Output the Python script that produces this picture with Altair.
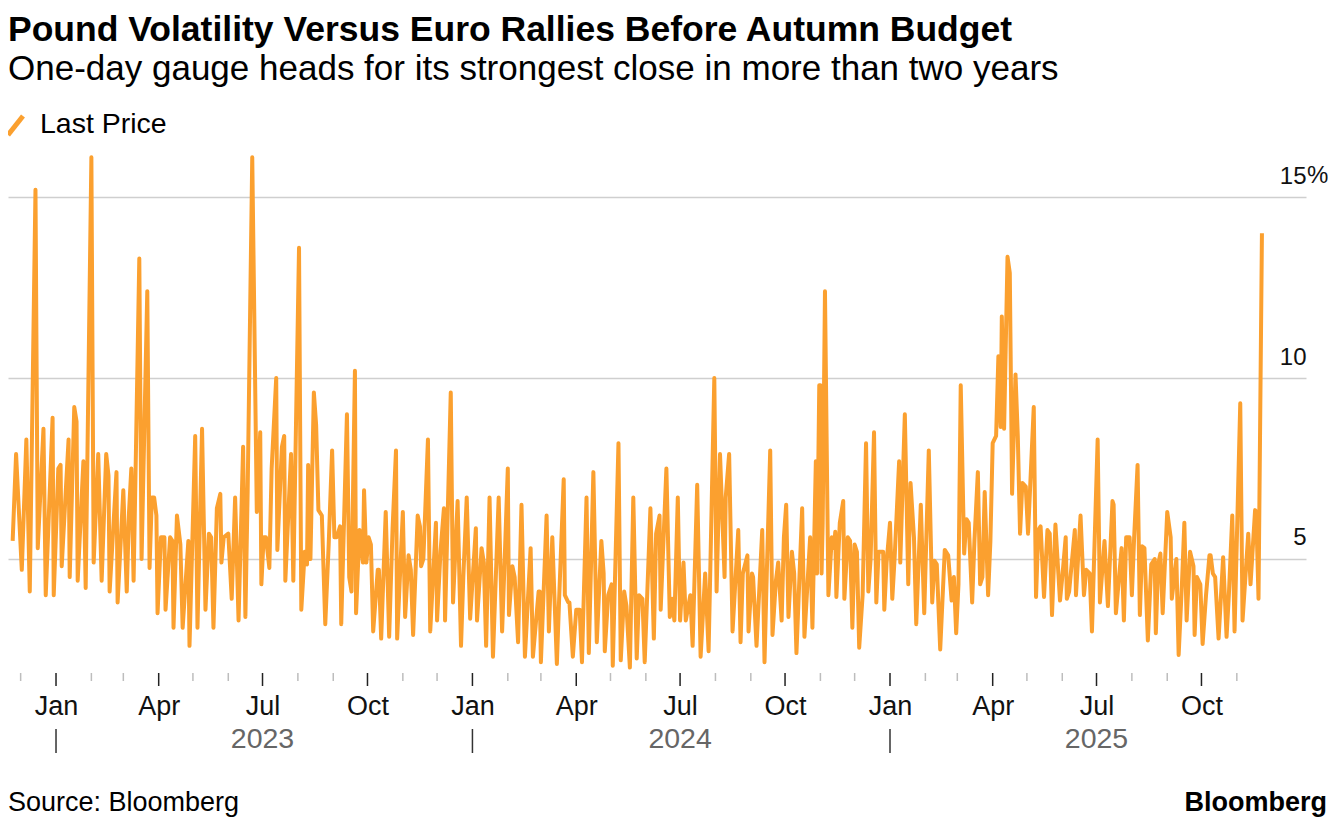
import altair as alt
import pandas as pd

TITLE = "Pound Volatility Versus Euro Rallies Before Autumn Budget"
SUBTITLE = "One-day gauge heads for its strongest close in more than two years"
SERIES = "Last Price"
SOURCE = "Source: Bloomberg"
BRAND = "Bloomberg"

# Observation dates as days after 2023-01-01, and one-day GBP/EUR implied volatility (%)
day_2022_23 = [-38, -35, -30, -26, -23, -18, -16, -11, -9, -3,
               -2, 2, 4, 5, 11, 12, 16, 18, 19, 24,
               26, 31, 33, 37, 40, 44, 46, 47, 53, 54,
               59, 62, 64, 66, 68, 70, 73, 75, 80, 82,
               84, 86, 88, 89, 92, 95, 96, 100, 102, 103,
               106, 109, 111, 116, 117, 122, 124, 128, 131, 134,
               136, 138, 141, 144, 145, 147, 151, 154, 157, 160,
               164, 166, 168, 172, 176, 179, 180, 182, 184, 187,
               189, 193, 194, 198, 200, 201, 206, 208, 213, 215,
               218, 220, 221, 223, 226, 228, 230, 233, 236, 239,
               242, 244, 246, 249, 250, 255, 257, 259, 262, 263,
               266, 269, 270, 272, 274, 276, 278, 282, 283, 285,
               289, 292, 295, 298, 299, 304, 306, 309, 311, 313,
               317, 319, 320, 322, 326, 328, 333, 334, 337, 340,
               341, 346, 348, 352, 355, 357, 360, 363]
vol_2022_23 = [5.5, 7.9, 4.7, 8.3, 4.1, 15.2, 5.3, 8.6, 4.0, 8.9,
               4.0, 7.5, 7.6, 4.8, 8.3, 4.5, 9.2, 8.8, 4.4, 7.7,
               4.2, 16.1, 4.9, 7.9, 4.4, 7.9, 7.3, 4.1, 7.4, 3.8,
               6.9, 4.1, 6.3, 7.5, 4.4, 7.9, 13.3, 5.0, 12.4, 4.75,
               6.7, 6.7, 6.2, 3.5, 5.6, 5.6, 3.6, 5.6, 5.5, 3.1,
               6.2, 5.4, 3.1, 5.5, 2.6, 8.4, 3.1, 8.6, 3.6, 5.7,
               5.6, 3.1, 6.4, 6.8, 4.9, 5.6, 5.7, 3.9, 6.7, 3.3,
               8.1, 3.4, 6.9, 16.1, 6.3, 8.5, 4.3, 5.6, 5.6, 4.75,
               7.5, 10.0, 5.25, 8.1, 8.4, 4.4, 7.9, 4.4, 13.6, 3.6,
               5.2, 4.85, 7.6, 5.0, 9.6, 8.7, 6.35, 6.2, 3.2, 5.4,
               8.0, 5.6, 5.6, 5.9, 3.2, 9.0, 4.5, 4.1, 10.2, 3.5,
               5.8, 4.9, 6.9, 4.9, 5.6, 5.4, 3.0, 4.7, 4.7, 2.8,
               6.3, 2.85, 5.85, 8.0, 2.8, 6.3, 3.4, 5.1, 4.7, 2.9,
               6.2, 5.9, 4.8, 5.0, 8.3, 3.0, 6.0, 3.3, 5.2, 6.4,
               3.3, 9.6, 3.8, 6.6, 2.6, 4.5, 6.7, 3.35]

day_2024 = [368, 369, 373, 375, 377, 380, 383, 388, 391, 393,
            396, 397, 400, 402, 405, 408, 411, 416, 418, 423,
            424, 425, 430, 432, 435, 439, 441, 445, 446, 449,
            450, 453, 456, 459, 461, 465, 467, 471, 474, 478,
            480, 481, 484, 487, 488, 493, 495, 498, 500, 503,
            506, 509, 511, 514, 516, 521, 524, 526, 529, 530,
            535, 538, 540, 542, 545, 547, 550, 552, 556, 558,
            562, 565, 569, 572, 577, 579, 582, 586, 587, 590,
            593, 598, 600, 602, 606, 607, 610, 611, 614, 619,
            621, 623, 626, 628, 631, 633, 636, 638, 640, 642,
            645, 647, 649, 654, 656, 661, 663, 666, 667, 669,
            670, 671, 672, 674, 677, 680, 682, 683, 684, 687,
            690, 691, 694, 696, 698, 700, 702, 704, 707, 710,
            712, 714, 717, 719, 721, 725, 726, 728]
vol_2024 = [5.85, 3.3, 5.3, 4.9, 2.6, 6.7, 2.3, 6.7, 3.0, 4.75,
            7.5, 3.45, 4.8, 4.5, 2.7, 6.5, 2.3, 5.3, 2.3, 4.1,
            4.1, 2.15, 6.2, 3.0, 5.6, 2.1, 3.9, 7.2, 4.0, 3.8,
            3.8, 2.3, 3.6, 3.6, 2.15, 6.7, 2.4, 7.4, 2.7, 5.5,
            4.6, 2.45, 4.0, 4.3, 2.05, 8.2, 2.2, 4.1, 3.7, 2.0,
            6.7, 2.25, 4.0, 3.9, 2.15, 6.4, 2.8, 5.7, 6.2, 3.6,
            7.5, 3.4, 3.9, 3.3, 6.7, 3.3, 4.9, 3.3, 4.0, 2.6,
            7.05, 2.3, 4.6, 2.45, 10.0, 4.1, 7.9, 4.5, 6.7, 7.9,
            3.0, 5.8, 2.7, 4.6, 5.1, 3.0, 4.6, 4.5, 2.6, 5.8,
            2.15, 4.6, 8.0, 2.9, 4.4, 4.9, 3.3, 5.6, 6.5, 3.4,
            5.2, 4.6, 2.4, 6.4, 2.85, 5.6, 3.1, 7.7, 4.6, 9.8,
            9.8, 4.6, 6.0, 12.4, 4.0, 5.6, 5.3, 5.75, 3.95, 6.0,
            6.6, 3.9, 5.6, 5.5, 3.1, 5.4, 5.2, 2.55, 4.0, 8.2,
            4.1, 5.0, 8.5, 3.8, 5.2, 5.2, 3.6, 4.9]

day_2025 = [731, 733, 735, 739, 740, 744, 747, 749, 752, 754,
            758, 761, 765, 768, 770, 772, 775, 779, 782, 785,
            787, 789, 791, 793, 796, 798, 800, 803, 805, 808,
            810, 812, 814, 817, 819, 821, 824, 826, 828, 829,
            831, 834, 836, 838, 841, 843, 845, 847, 850, 852,
            857, 859, 861, 863, 866, 869, 871, 873, 876, 880,
            882, 885, 886, 888, 893, 894, 898, 901, 903, 906,
            908, 913, 915, 919, 922, 926, 927, 929, 934, 936,
            938, 941, 943, 945, 948, 950, 952, 954, 957, 960,
            963, 964, 966, 968, 970, 974, 977, 978, 982, 984,
            987, 989, 991, 994, 997, 998, 1000, 1003, 1005, 1008,
            1011, 1012, 1014, 1016, 1019, 1023, 1026, 1028, 1031, 1033,
            1038, 1040, 1045, 1047, 1051, 1052, 1054, 1057]
vol_2025 = [6.0, 3.9, 5.0, 7.7, 4.9, 9.0, 4.3, 7.1, 5.6, 3.2,
            6.5, 3.5, 8.0, 3.8, 4.95, 4.85, 2.5, 5.25, 5.1, 3.85,
            4.5, 2.95, 4.3, 9.8, 5.15, 6.1, 6.0, 3.8, 5.5, 7.4,
            4.3, 4.5, 6.85, 4.0, 5.5, 8.2, 8.4, 10.6, 8.65, 11.7,
            8.6, 13.35, 12.9, 6.8, 10.1, 8.4, 5.7, 7.1, 7.0, 5.7,
            9.2, 3.95, 5.8, 5.9, 3.95, 5.8, 5.7, 3.45, 5.95, 3.85,
            4.5, 5.6, 3.9, 4.1, 5.8, 4.0, 6.2, 4.0, 4.7, 4.6,
            3.0, 8.3, 3.8, 5.5, 3.7, 6.6, 6.5, 3.5, 5.3, 3.3,
            5.6, 5.6, 4.0, 5.6, 7.6, 3.45, 5.35, 5.3, 2.75, 4.85,
            5.0, 2.95, 4.85, 5.15, 3.5, 6.3, 5.6, 3.9, 5.0, 2.35,
            4.4, 6.0, 3.3, 5.2, 4.8, 2.9, 4.5, 4.3, 2.65, 4.0,
            5.1, 5.1, 4.6, 4.5, 2.8, 5.05, 2.85, 4.0, 6.2, 3.0,
            9.3, 3.3, 5.7, 4.3, 6.35, 6.3, 3.9, 14.0]

y_ticks = [5, 10, 15]
quarter_labels = ["2023-01-01", "2023-04-01", "2023-07-01", "2023-10-01",
                  "2024-01-01", "2024-04-01", "2024-07-01", "2024-10-01",
                  "2025-01-01", "2025-04-01", "2025-07-01", "2025-10-01"]
year_labels = ["2023", "2024", "2025"]

# ---------------------------------------------------------------- layout
W, H = 1298, 523
ORANGE = "#fba02f"
FONT = "Liberation Sans"

base = pd.Timestamp("2023-01-01")
days = day_2022_23 + day_2024 + day_2025
vols = vol_2022_23 + vol_2024 + vol_2025
df = pd.DataFrame({
    "date": [(base + pd.Timedelta(days=d)).strftime("%Y-%m-%d") for d in days],
    "vol": vols,
})

month_starts = pd.date_range("2022-12-01", "2025-11-01", freq="MS")
ticks_df = pd.DataFrame({
    "date": month_starts.strftime("%Y-%m-%d"),
    "major": [m.month in (1, 4, 7, 10) for m in month_starts],
})
years_df = pd.DataFrame({"date": [f"{y}-07-01" for y in year_labels], "label": year_labels})
jan_df = pd.DataFrame({"date": [f"{y}-01-01" for y in year_labels]})


def dt(s, h=0):
    t = pd.Timestamp(s)
    return alt.DateTime(year=t.year, month=t.month, date=t.day, hours=h, utc=True)


x_scale = alt.Scale(type="utc", domain=[dt("2022-11-19", 22), dt("2025-12-31", 15)])
y_scale = alt.Scale(domain=[1.85, 16.3], zero=False, nice=False)

x_axis = alt.Axis(
    values=[dt(q) for q in quarter_labels],
    labelExpr="utcFormat(datum.value, '%b')",
    ticks=False, tickSize=0, domain=False, grid=False, title=None,
    labelFont=FONT, labelFontSize=27, labelColor="#111111",
    labelBaseline="middle", labelPadding=33, labelFlush=False,
)
y_axis = alt.Axis(
    orient="right", values=y_ticks, format="d",
    ticks=False, tickSize=0, domain=False, grid=True,
    gridColor="#cfcfcf", gridWidth=1.5, title=None,
    labelFont=FONT, labelFontSize=24, labelColor="#111111",
    labelAlign="right", labelBaseline="middle", labelOffset=-21, labelPadding=0,
)


def X(field="date:T"):
    return alt.X(field, scale=x_scale, axis=x_axis)


def Y(field):
    return alt.Y(field, scale=y_scale, axis=y_axis)


line = alt.Chart(df).mark_line(
    color=ORANGE, strokeWidth=4, strokeJoin="round"
).encode(x=X(), y=Y("vol:Q"))

pct = alt.Chart(pd.DataFrame({"v": [max(y_ticks)], "s": ["%"]})).mark_text(
    align="left", baseline="middle", dy=-21, font=FONT, fontSize=24, color="#111111"
).encode(x=alt.value(W + 1), y=Y("v:Q"), text="s:N")

minor_ticks = alt.Chart(ticks_df).transform_filter("!datum.major").mark_rule(
    color="#bdbdbd", strokeWidth=1.5
).encode(x=X(), y=alt.value(H), y2=alt.value(H + 8))

major_ticks = alt.Chart(ticks_df).transform_filter("datum.major").mark_rule(
    color="#222222", strokeWidth=1.5
).encode(x=X(), y=alt.value(H), y2=alt.value(H + 13))

year_text = alt.Chart(years_df).mark_text(
    baseline="middle", font=FONT, fontSize=28.5, color="#666666"
).encode(x=X(), y=alt.value(H + 66), text="label:N")

year_sep = alt.Chart(jan_df).mark_rule(color="#333333", strokeWidth=1.5).encode(
    x=X(), y=alt.value(H + 56), y2=alt.value(H + 80)
)


def label(text, x, y, size, weight="normal", align="left", color="#000000", baseline="alphabetic"):
    return alt.Chart(pd.DataFrame({"t": [text]})).mark_text(
        align=align, baseline=baseline, font=FONT, fontSize=size,
        fontWeight=weight, color=color
    ).encode(x=alt.value(x), y=alt.value(y), text="t:N")


title = label(TITLE, 0, -109.5, 35.5, weight="bold")
subtitle = label(SUBTITLE, 0, -70.5, 35)
legend_text = label(SERIES, 32, -26, 28.5, baseline="middle")
legend_mark = alt.Chart(pd.DataFrame({"s": [SERIES]})).mark_rule(
    color=ORANGE, strokeWidth=5
).encode(x=alt.value(0), x2=alt.value(15), y=alt.value(-15), y2=alt.value(-34))
source = label(SOURCE, 0, 661, 27)
brand = label(BRAND, 1319, 661, 27, weight="bold", align="right")

chart = alt.layer(
    line, pct, minor_ticks, major_ticks, year_text, year_sep,
    title, subtitle, legend_mark, legend_text, source, brand,
).properties(
    width=W, height=H,
    autosize=alt.AutoSizeParams(type="none"),
    padding={"left": 0, "top": 142, "right": 22, "bottom": 145},
    background="#ffffff",
).configure_view(stroke=None)

chart.save("out.html", embed_options={"renderer": "svg", "actions": False})
